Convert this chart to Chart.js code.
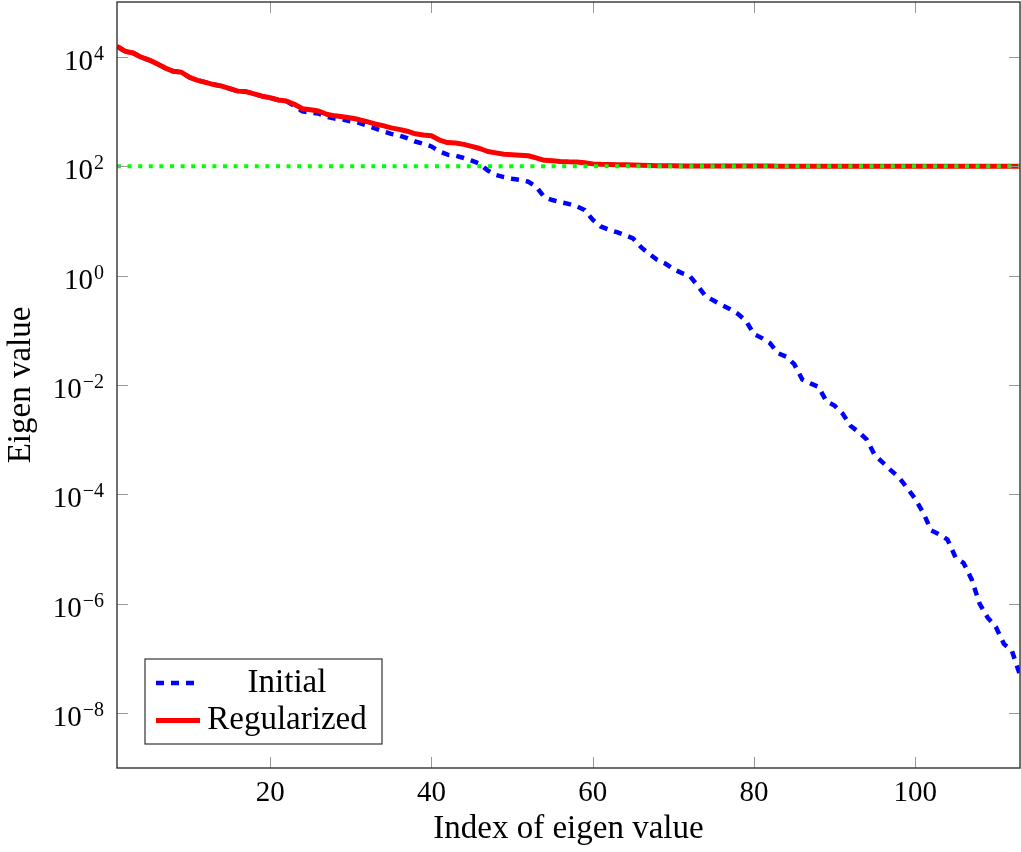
<!DOCTYPE html>
<html>
<head>
<meta charset="utf-8">
<script src="https://cdn.jsdelivr.net/npm/chart.js@4.4.1/dist/chart.umd.min.js"></script>
<style>
  html, body { margin: 0; padding: 0; background: #fff; }
  canvas { display: block; }
</style>
</head>
<body>
<canvas id="eigChart" width="1021" height="852"></canvas>
<script>
// ---- data ----
const initialValues = [
  15500, 12600, 11700, 9800, 8700, 7400, 6200, 5400, 5200, 4200,
  3700, 3400, 3100, 2900, 2600, 2350, 2300, 2100, 1900, 1780,
  1620, 1550, 1260, 1000, 955, 912, 794, 741, 708, 661,
  617, 550, 490, 437, 389, 363, 324, 282, 257, 229,
  186, 162, 155, 141, 126, 110, 83, 69, 63, 59,
  56, 52, 42, 27, 24, 22, 20.4, 18.6, 15.8, 10.5,
  7.9, 6.9, 6.2, 5.5, 4.8, 3.3, 2.5, 1.95, 1.66, 1.32,
  1.12, 1.0, 0.66, 0.42, 0.35, 0.29, 0.245, 0.20, 0.15, 0.085,
  0.072, 0.058, 0.038, 0.033, 0.024, 0.0126, 0.0107, 0.0093, 0.0050, 0.0042,
  0.0030, 0.00178, 0.00138, 0.0010, 5.2e-4, 3.8e-4, 2.75e-4, 2.04e-4, 1.32e-4, 8.3e-5,
  4.6e-5, 2.2e-5, 1.86e-5, 1.5e-5, 7.1e-6, 5.6e-6, 2.8e-6, 1.0e-6, 5.6e-7, 3.8e-7,
  1.86e-7, 1.38e-7, 5.0e-8
];
const regularizedValues = [
  15500, 12600, 11700, 9800, 8700, 7400, 6200, 5400, 5200, 4200,
  3700, 3400, 3100, 2900, 2600, 2350, 2300, 2100, 1900, 1780,
  1620, 1550, 1350, 1120, 1070, 1020, 890, 830, 800, 760,
  710, 650, 590, 550, 500, 470, 435, 390, 370, 360,
  300, 270, 265, 250, 230, 210, 185, 175, 165, 162,
  158, 155, 142, 128, 125, 122, 120, 119, 115, 110,
  108, 107, 106, 105.5, 105, 104, 103, 102, 101.7, 101.3,
  101.1, 101, 100.7, 100.4, 100.3, 100.3, 100.2, 100.2, 100.15, 100.1,
  100.1, 100.1, 100, 100, 100, 100, 100, 100, 100, 100,
  100, 100, 100, 100, 100, 100, 100, 100, 100, 100,
  100, 100, 100, 100, 100, 100, 100, 100, 100, 100,
  100, 100, 100
];
const thresholdValue = [100, 100];   // green dotted reference line

const seriesLabels = ["Initial", "Regularized"];
const xTickValues = [20, 40, 60, 80, 100];
const yTickValues = [1e-8, 1e-6, 1e-4, 1e-2, 1, 1e2, 1e4];
const yTickExponents = ["\u22128", "\u22126", "\u22124", "\u22122", "0", "2", "4"];

const indices = initialValues.map((_, i) => i + 1);
const xMin = indices[0];
const xMax = indices[indices.length - 1];

const FONT = "'Liberation Serif', 'DejaVu Serif', serif";

// inside ticks, frame and 10^n labels, pgfplots style
const framePlugin = {
  id: "frame",
  afterDatasetsDraw(chart) {
    const { ctx, chartArea: a, scales } = chart;
    ctx.save();
    ctx.strokeStyle = "#999";
    ctx.lineWidth = 1;
    const tl = 11;
    ctx.beginPath();
    scales.x.ticks.forEach(t => {
      const px = Math.round(scales.x.getPixelForValue(t.value)) + 0.5;
      ctx.moveTo(px, a.bottom); ctx.lineTo(px, a.bottom - tl);
      ctx.moveTo(px, a.top); ctx.lineTo(px, a.top + tl);
    });
    scales.y.ticks.forEach(t => {
      const py = Math.round(scales.y.getPixelForValue(t.value)) + 0.5;
      ctx.moveTo(a.left, py); ctx.lineTo(a.left + tl, py);
      ctx.moveTo(a.right, py); ctx.lineTo(a.right - tl, py);
    });
    ctx.stroke();
    ctx.strokeStyle = "#333";
    ctx.lineWidth = 1.4;
    ctx.strokeRect(a.left, a.top, a.right - a.left, a.bottom - a.top);

    // y tick labels as 10 with raised exponent
    ctx.fillStyle = "#000";
    ctx.textAlign = "right";
    ctx.textBaseline = "alphabetic";
    const xr = a.left - 13;
    yTickValues.forEach((v, i) => {
      const py = scales.y.getPixelForValue(v);
      ctx.font = "20px " + FONT;
      const ew = ctx.measureText(yTickExponents[i]).width;
      ctx.fillText(yTickExponents[i], xr, py + 3);
      ctx.font = "29px " + FONT;
      ctx.fillText("10", xr - ew - 1, py + 13);
    });
    ctx.restore();
  }
};

// boxed legend in lower left corner
const legendPlugin = {
  id: "boxLegend",
  afterDraw(chart) {
    const { ctx, chartArea: a } = chart;
    const items = seriesLabels.map(l => chart.data.datasets.find(d => d.label === l));
    const x0 = a.left + 28, w = 237, rowH = 37.5;
    const h = 85;
    const y0 = a.bottom - 24 - h;
    ctx.save();
    ctx.fillStyle = "#fff";
    ctx.fillRect(x0, y0, w, h);
    ctx.strokeStyle = "#333";
    ctx.lineWidth = 1.2;
    ctx.strokeRect(x0, y0, w, h);
    items.forEach((d, i) => {
      const cy = y0 + 24 + i * rowH;
      ctx.strokeStyle = d.borderColor;
      ctx.lineWidth = d.borderWidth;
      ctx.setLineDash(d.borderDash || []);
      ctx.beginPath();
      ctx.moveTo(x0 + 11, cy);
      ctx.lineTo(x0 + 55, cy);
      ctx.stroke();
      ctx.setLineDash([]);
      ctx.fillStyle = "#000";
      ctx.font = "33px " + FONT;
      ctx.textAlign = "center";
      ctx.textBaseline = "middle";
      ctx.fillText(d.label, x0 + 142, cy);
    });
    ctx.restore();
  }
};

new Chart(document.getElementById("eigChart"), {
  type: "line",
  data: {
    datasets: [
      {
        label: "",
        data: [{ x: xMin, y: thresholdValue[0] }, { x: xMax, y: thresholdValue[1] }],
        borderColor: "#00ff00",
        borderWidth: 4,
        borderDash: [4, 6.6],
        pointRadius: 0,
        order: 0
      },
      {
        label: seriesLabels[1],
        data: indices.map((x, i) => ({ x, y: regularizedValues[i] })),
        borderColor: "#ff0000",
        borderWidth: 5,
        borderJoinStyle: "round",
        pointRadius: 0,
        order: 1
      },
      {
        label: seriesLabels[0],
        data: indices.map((x, i) => ({ x, y: initialValues[i] })),
        borderColor: "#0000ff",
        borderWidth: 4.5,
        borderDash: [8, 7],
        pointRadius: 0,
        order: 2
      }
    ]
  },
  options: {
    responsive: false,
    animation: false,
    layout: { padding: { top: 2, right: 1, left: 0, bottom: 0 } },
    plugins: {
      legend: { display: false },
      tooltip: { enabled: false }
    },
    scales: {
      x: {
        type: "linear",
        min: xMin,
        max: xMax,
        grid: { display: false },
        border: { display: false },
        afterBuildTicks: s => { s.ticks = xTickValues.map(v => ({ value: v })); },
        afterFit: s => { s.height = 84; s.paddingLeft = 0; s.paddingRight = 0; },
        ticks: { color: "#000", padding: 0, maxRotation: 0, font: { family: FONT, size: 29 } },
        title: {
          display: true,
          text: "Index of eigen value",
          color: "#000",
          padding: { top: 0, bottom: 3 },
          font: { family: FONT, size: 33 }
        }
      },
      y: {
        type: "logarithmic",
        min: 1e-9,
        max: 1e5,
        grid: { display: false },
        border: { display: false },
        afterBuildTicks: s => { s.ticks = yTickValues.map(v => ({ value: v })); },
        afterFit: s => { s.width = 117; s.paddingTop = 0; s.paddingBottom = 0; },
        ticks: { display: false },
        title: {
          display: true,
          text: "Eigen value",
          color: "#000",
          padding: { top: 2, bottom: 0 },
          font: { family: FONT, size: 33 }
        }
      }
    }
  },
  plugins: [framePlugin, legendPlugin]
});
</script>
</body>
</html>
